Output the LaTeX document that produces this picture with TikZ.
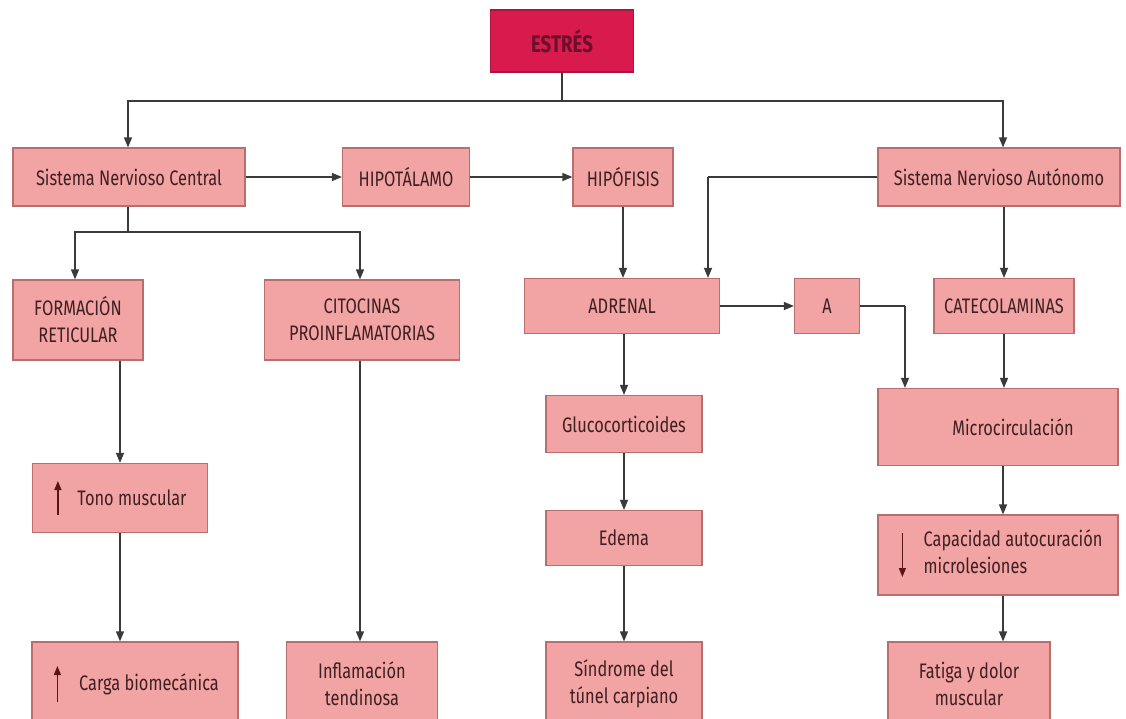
\documentclass[tikz,border=0pt]{standalone}
\usepackage{fontspec}
\setmainfont{Fira Sans}[FakeStretch=0.78]
\usetikzlibrary{arrows.meta,calc}
\definecolor{boxfill}{HTML}{F2A3A3}
\definecolor{boxline}{HTML}{B86E6E}
\definecolor{redfill}{HTML}{D81A4C}
\definecolor{redtxt}{HTML}{6A1029}
\definecolor{txt}{HTML}{3E2020}
\definecolor{lin}{HTML}{3A3A3A}
\definecolor{uparr}{HTML}{5A1414}
\begin{document}
\begin{tikzpicture}[x=1pt,y=-1pt,
  box/.style={draw=boxline, fill=boxfill, line width=1.2pt, text=txt,
    font=\fontsize{21}{27}\selectfont, align=center, inner sep=0pt},
  redbox/.style={draw=redfill!80!black, fill=redfill, line width=1.2pt, text=redtxt,
    font=\fontsize{24}{28}\selectfont\bfseries, inner sep=0pt},
  ln/.style={draw=lin, line width=1.3pt},
  arr/.style={ln, -{Triangle[length=10pt,width=8pt]}},
  tinyarr/.style={draw=uparr, line width=1.4pt, -{Triangle[length=9pt,width=7pt]}}]
\useasboundingbox (0,0) rectangle (1126,719);
\fill[white] (0,0) rectangle (1126,719);
% nodes
\node[redbox, minimum width=143pt, minimum height=62pt] (estres) at (562,41) {ESTRÉS};
\node[box, minimum width=232pt, minimum height=58pt] (snc) at (129,177) {Sistema Nervioso Central};
\node[box, minimum width=127pt, minimum height=58pt] (hipot) at (406,177) {HIPOTÁLAMO};
\node[box, minimum width=100pt, minimum height=58pt] (hipof) at (623,177) {HIPÓFISIS};
\node[box, minimum width=242pt, minimum height=58pt] (sna) at (999,177) {Sistema Nervioso Autónomo};
\node[box, minimum width=130pt, minimum height=80pt] (form) at (78,320) {FORMACIÓN\\RETICULAR};
\node[box, minimum width=195pt, minimum height=80pt] (cito) at (362,320) {CITOCINAS\\PROINFLAMATORIAS};
\node[box, minimum width=195pt, minimum height=55pt] (adren) at (622,306) {ADRENAL};
\node[box, minimum width=65pt, minimum height=55pt] (a) at (827,306) {A};
\node[box, minimum width=140pt, minimum height=55pt] (cate) at (1004,306) {CATECOLAMINAS};
\node[box, minimum width=240pt, minimum height=77pt] (micro) at (998,427) {\hspace*{30pt}Microcirculación};
\node[box, minimum width=156pt, minimum height=57pt] (gluco) at (624,424) {Glucocorticoides};
\node[box, minimum width=175pt, minimum height=69pt] (tono) at (120,498) {\hspace*{24pt}Tono muscular};
\node[box, minimum width=156pt, minimum height=55pt] (edema) at (624,538) {Edema};
\node[box, minimum width=240pt, minimum height=80pt] (capac) at (998,555) {\hspace*{30pt}\begin{tabular}{@{}l@{}}Capacidad autocuración\\microlesiones\end{tabular}};
\node[box, minimum width=206pt, minimum height=84pt] (carga) at (135,684) {\hspace*{28pt}Carga biomecánica};
\node[box, minimum width=151pt, minimum height=84pt] (infl) at (362,684) {Inflamación\\tendinosa};
\node[box, minimum width=156pt, minimum height=84pt] (sind) at (624,684) {Síndrome del\\túnel carpiano};
\node[box, minimum width=162pt, minimum height=84pt] (fat) at (969,684) {Fatiga y dolor\\muscular};
% small arrows inside boxes
\draw[tinyarr] ($(tono.west)+(26,17)$) -- ($(tono.west)+(26,-17)$);
\draw[tinyarr] ($(carga.west)+(26,18)$) -- ($(carga.west)+(26,-18)$);
\draw[tinyarr] ($(capac.west)+(25,-22)$) -- ($(capac.west)+(25,22)$);
% junction coordinates
\coordinate (j0) at (562,101);
\coordinate (j1) at (128,232);
\coordinate (j2) at (708,177);
\coordinate (j3) at (905,306);
% connectors
\draw[ln] (estres.south) -- (j0);
\draw[arr] (j0) -| ($(snc.north)+(-1,0)$);
\draw[arr] (j0) -| ($(sna.north)+(4,0)$);
\draw[arr] (snc) -- (hipot);
\draw[arr] (hipot) -- (hipof);
\draw[ln] ($(snc.south)+(-1,0)$) -- (j1);
\draw[arr] (j1) -| ($(form.north)+(-3,0)$);
\draw[arr] (j1) -| ($(cito.north)+(-2,0)$);
\draw[arr] (hipof.south) -- ($(adren.north)+(1,0)$);
\draw[ln] (sna.west) -- (j2);
\draw[arr] (j2) -- (j2 |- adren.north);
\draw[arr] (cate.north |- sna.south) -- (cate.north);
\draw[arr] (adren) -- (a);
\draw[ln] (a.east) -- (j3);
\draw[arr] (j3) -- (j3 |- micro.north);
\draw[arr] (cate.south) -- (cate.south |- micro.north);
\draw[arr] ($(micro.south)+(5,0)$) -- ($(capac.north)+(5,0)$);
\draw[arr] ($(capac.south)+(5,0)$) -- ($(fat.north)+(34,0)$);
\draw[arr] ($(form.south)+(42,0)$) -- (tono.north);
\draw[arr] (tono.south) -- ($(carga.north)+(-15,0)$);
\draw[arr] ($(cito.south)+(-2,0)$) -- ($(infl.north)+(-2,0)$);
\draw[arr] ($(adren.south)+(2,0)$) -- (gluco.north);
\draw[arr] (gluco) -- (edema);
\draw[arr] (edema) -- (sind);
\end{tikzpicture}
\end{document}
